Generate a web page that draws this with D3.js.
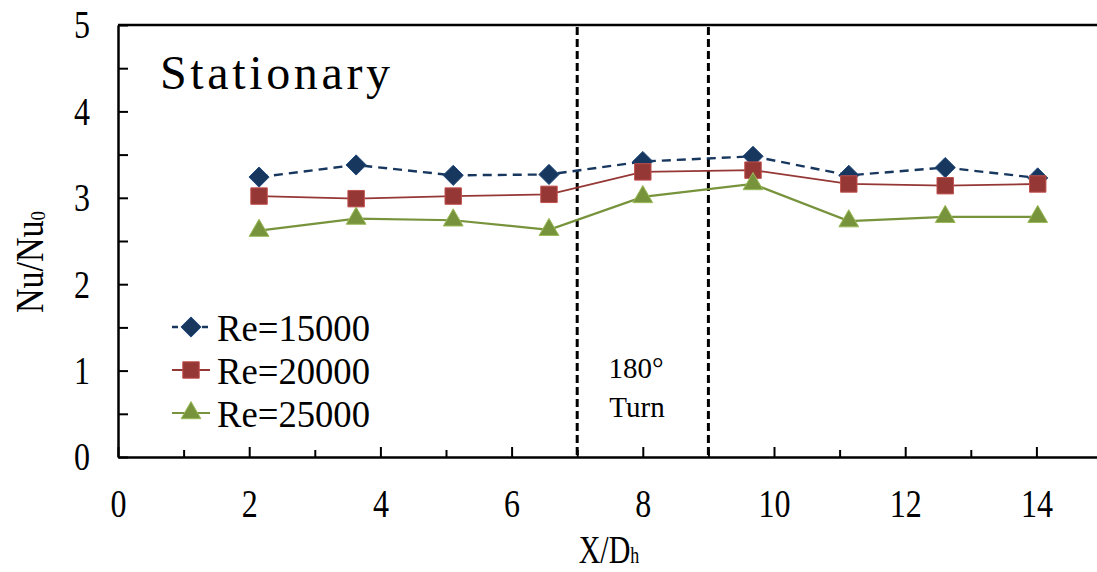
<!DOCTYPE html>
<html>
<head>
<meta charset="utf-8">
<script src="https://cdn.jsdelivr.net/npm/d3@7.9.0/dist/d3.min.js"></script>
<style>
  body { margin: 0; background: #fff; }
  svg { display: block; font-family: "Liberation Serif", "DejaVu Serif", serif; }
</style>
</head>
<body>
<svg id="chart" width="1097" height="572"></svg>
<script>
// data
const xPos = [2.15, 3.63, 5.11, 6.57, 8.0, 9.68, 11.14, 12.61, 14.02];
const re15000 = [3.24, 3.38, 3.26, 3.27, 3.42, 3.48, 3.26, 3.35, 3.23];
const re20000 = [3.02, 2.99, 3.02, 3.04, 3.30, 3.32, 3.16, 3.14, 3.16];
const re25000 = [2.62, 2.76, 2.74, 2.63, 3.01, 3.16, 2.73, 2.78, 2.78];
const seriesNames = ["Re=15000", "Re=20000", "Re=25000"];
const xTickLabels = [0, 2, 4, 6, 8, 10, 12, 14];
const yTickLabels = [0, 1, 2, 3, 4, 5];
const turnLines = [7, 9];

const svg = d3.select('#chart');
const plotLeft = 118, plotTop = 25, plotBottom = 457;
const x = d3.scaleLinear().domain([0, 15]).range([plotLeft, plotLeft + 15 * 65.6]);
const y = d3.scaleLinear().domain([0, 5]).range([plotBottom, plotTop]);

const series = [
  { name: seriesNames[0], values: re15000, color: '#17375E', stroke: '#1F497D', dash: '9,6', width: 2.4, marker: d3.symbolDiamond2, size: 260 },
  { name: seriesNames[1], values: re20000, color: '#953735', stroke: '#C0504D', dash: null, width: 1.8, marker: d3.symbolSquare, size: 270 },
  { name: seriesNames[2], values: re25000, color: '#77933C', stroke: '#9BBB59', dash: null, width: 2.2, marker: d3.symbolTriangle, size: 170 }
];

// axes: ticks point inward
const xAxis = svg.append('g').attr('transform', `translate(0,${plotBottom})`)
  .call(d3.axisBottom(x).tickValues(xTickLabels).tickSize(-10).tickPadding(32).tickSizeOuter(0));
const xMinor = svg.append('g').attr('transform', `translate(0,${plotBottom})`)
  .call(d3.axisBottom(x).tickValues(d3.range(1, 15, 2)).tickSize(-7).tickFormat('').tickSizeOuter(0));
xMinor.select('.domain').remove();

const yAxis = svg.append('g').attr('transform', `translate(${plotLeft},0)`)
  .call(d3.axisLeft(y).tickValues(yTickLabels).tickFormat(d3.format('d')).tickSize(-10).tickPadding(28).tickSizeOuter(0));
const yMinor = svg.append('g').attr('transform', `translate(${plotLeft},0)`)
  .call(d3.axisLeft(y).tickValues([0.5, 1.5, 2.5, 3.5, 4.5]).tickSize(-10).tickFormat('').tickSizeOuter(0));
yMinor.select('.domain').remove();

[xAxis, xMinor, yAxis, yMinor].forEach(g => {
  g.selectAll('.domain').attr('stroke', '#000').attr('stroke-width', 2.5);
  g.selectAll('line').attr('stroke', '#000').attr('stroke-width', 2);
});
xAxis.selectAll('text').attr('font-size', 40).attr('fill', '#000')
  .attr('font-family', '"Liberation Serif", serif')
  .attr('transform', 'scale(0.8,1)');
yAxis.selectAll('text').attr('font-size', 40).attr('fill', '#000')
  .attr('font-family', '"Liberation Serif", serif')
  .attr('x', -28 / 0.8)
  .attr('transform', 'scale(0.8,1)');

// top border of plot box
svg.append('line')
  .attr('x1', x(0)).attr('x2', x(15)).attr('y1', y(5)).attr('y2', y(5))
  .attr('stroke', '#000').attr('stroke-width', 2.5);

// 180 turn boundaries
svg.selectAll('.turn').data(turnLines).join('line')
  .attr('class', 'turn')
  .attr('x1', d => x(d)).attr('x2', d => x(d))
  .attr('y1', y(5) + 2).attr('y2', y(0))
  .attr('stroke', '#000').attr('stroke-width', 3).attr('stroke-dasharray', '8,4');

svg.append('text').attr('x', 636).attr('y', 378).attr('text-anchor', 'middle')
  .attr('font-size', 29).text('180°');
svg.append('text').attr('x', 637).attr('y', 417).attr('text-anchor', 'middle')
  .attr('font-size', 29).text('Turn');

// lines and markers
const line = d3.line().x((d, i) => x(xPos[i])).y(d => y(d));
series.forEach(s => {
  svg.append('path').datum(s.values)
    .attr('d', line)
    .attr('fill', 'none')
    .attr('stroke', s.color)
    .attr('stroke-width', s.width)
    .attr('stroke-dasharray', s.dash);
  svg.selectAll(null).data(s.values).join('path')
    .attr('transform', (d, i) => `translate(${x(xPos[i])},${y(d)})`)
    .attr('d', d3.symbol(s.marker, s.size))
    .attr('fill', s.color)
    .attr('stroke', s.stroke)
    .attr('stroke-width', 1);
});

// legend
const legendY = [327, 370, 413];
series.forEach((s, i) => {
  const g = svg.append('g').attr('transform', `translate(0,${legendY[i]})`);
  g.append('line').attr('x1', 172).attr('x2', 210).attr('y1', 0).attr('y2', 0)
    .attr('stroke', s.color).attr('stroke-width', s.width).attr('stroke-dasharray', s.dash ? '6,4' : null);
  g.append('path').attr('transform', 'translate(191,0)')
    .attr('d', d3.symbol(s.marker, s.size))
    .attr('fill', s.color).attr('stroke', s.stroke).attr('stroke-width', 1);
  g.append('text').attr('x', 217).attr('y', 14)
    .attr('font-size', 37)
    .attr('textLength', 153).attr('lengthAdjust', 'spacingAndGlyphs')
    .text(s.name);
});

// title inside the plot
svg.append('text').attr('x', 160).attr('y', 89)
  .attr('font-size', 48)
  .attr('textLength', 230).attr('lengthAdjust', 'spacing')
  .text('Stationary');

// axis titles
const yTitle = svg.append('text')
  .attr('transform', 'translate(43,262) rotate(-90) scale(0.85,1)')
  .attr('text-anchor', 'middle').attr('font-size', 40);
yTitle.append('tspan').text('Nu/Nu');
yTitle.append('tspan').attr('font-size', 22).attr('dy', 2).text('0');

const xTitle = svg.append('text')
  .attr('transform', 'translate(609,563) scale(0.75,1)')
  .attr('text-anchor', 'middle').attr('font-size', 40);
xTitle.append('tspan').text('X/D');
xTitle.append('tspan').attr('font-size', 24).attr('dy', 0).text('h');
</script>
</body>
</html>
